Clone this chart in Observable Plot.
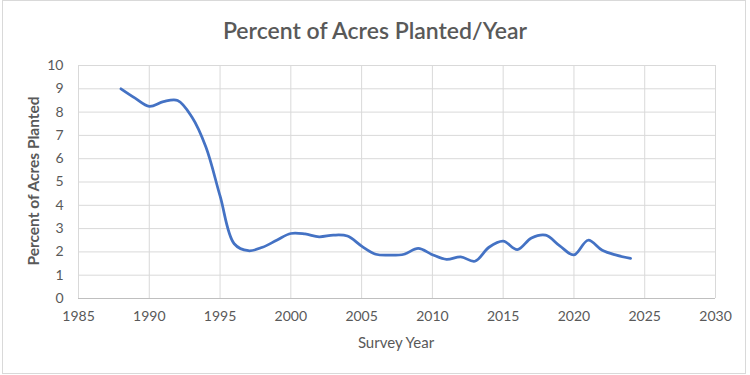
<!DOCTYPE html>
<html>
<head>
<meta charset="utf-8">
<script src="https://cdn.jsdelivr.net/npm/d3@7"></script>
<script src="https://cdn.jsdelivr.net/npm/@observablehq/plot@0.6"></script>
<style>
  html, body { margin: 0; padding: 0; background: #fff; }
  #chart { position: relative; width: 750px; height: 375px; overflow: hidden; font-family: Lato, "Open Sans", sans-serif; }
  #border { position: absolute; left: 2px; top: 0px; width: 742px; height: 372px; border: 1px solid #d9d9d9; box-sizing: content-box; pointer-events: none; }
  #title { position: absolute; left: 0; width: 750px; top: 16px; text-align: center; font-size: 23px; font-weight: 600; color: #595959; line-height: 28px; }
  #xlabel { position: absolute; left: 296px; width: 200px; top: 332px; text-align: center; font-size: 15px; color: #595959; line-height: 20px; }
  #ylabel { position: absolute; left: 33px; top: 181px; transform: translate(-50%, -50%) rotate(-90deg); white-space: nowrap; font-size: 15.5px; font-weight: 700; color: #595959; line-height: 20px; }
  #plot { position: absolute; left: 0; top: 0; }
</style>
</head>
<body>
<div id="chart">
  <div id="plot"></div>
  <div id="title">Percent of Acres Planted/Year</div>
  <div id="ylabel">Percent of Acres Planted</div>
  <div id="xlabel">Survey Year</div>
  <div id="border"></div>
</div>
<script>
const years = [1988,1989,1990,1991,1992,1993,1994,1995,1996,1997,1998,1999,2000,2001,2002,2003,2004,2005,2006,2007,2008,2009,2010,2011,2012,2013,2014,2015,2016,2017,2018,2019,2020,2021,2022,2023,2024];
const percents = [9.0,8.6,8.25,8.45,8.5,7.8,6.5,4.4,2.35,2.05,2.2,2.5,2.79,2.77,2.65,2.72,2.68,2.25,1.9,1.86,1.9,2.15,1.88,1.68,1.79,1.6,2.2,2.46,2.1,2.6,2.72,2.26,1.87,2.5,2.07,1.86,1.72];
const xTicks = [1985,1990,1995,2000,2005,2010,2015,2020,2025,2030];
const yTicks = [0,1,2,3,4,5,6,7,8,9,10];

const data = years.map((y, i) => ({year: y, pct: percents[i]}));

const chart = Plot.plot({
  width: 750,
  height: 375,
  marginLeft: 78,
  marginRight: 35,
  marginTop: 65,
  marginBottom: 77,
  style: {fontFamily: "Lato, 'Open Sans', sans-serif", fontSize: "14px", color: "#595959", background: "transparent"},
  x: {domain: [1985, 2030], ticks: xTicks, tickFormat: "d", tickSize: 0, tickPadding: 14, label: null},
  y: {domain: [0, 10], ticks: yTicks, tickSize: 0, tickPadding: 15, label: null},
  marks: [
    Plot.gridX(xTicks, {stroke: "#d9d9d9", strokeOpacity: 1, strokeWidth: 1}),
    Plot.gridY(yTicks, {stroke: "#d9d9d9", strokeOpacity: 1, strokeWidth: 1}),
    Plot.ruleY([0], {stroke: "#bfbfbf", strokeWidth: 1}),
    Plot.line(data, {x: "year", y: "pct", stroke: "#4472C4", strokeWidth: 2.75, curve: "catmull-rom"}),
    Plot.axisX({ticks: xTicks, tickFormat: "d", tickSize: 0, tickPadding: 13, label: null}),
    Plot.axisY({ticks: yTicks, tickSize: 0, tickPadding: 15, label: null})
  ]
});
document.getElementById("plot").appendChild(chart);
</script>
</body>
</html>
